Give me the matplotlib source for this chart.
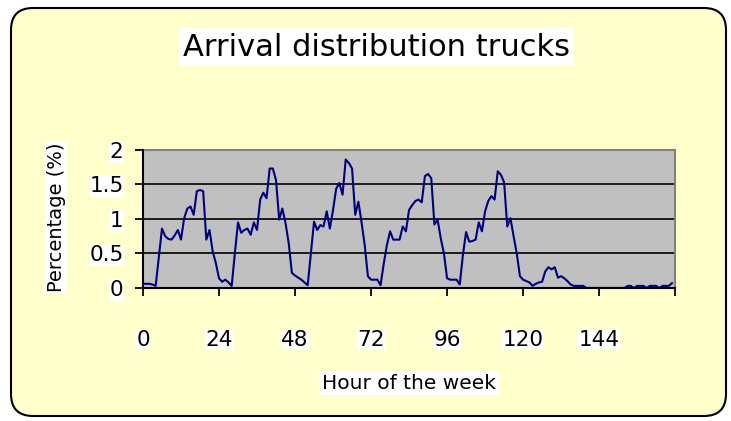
import numpy as np
import matplotlib
matplotlib.use('Agg')
import matplotlib.pyplot as plt
from matplotlib.patches import FancyBboxPatch

# hourly arrival share (%) over one week
hours = np.arange(168)
pct = [0.06, 0.06, 0.06, 0.05, 0.03, 0.45, 0.86, 0.75, 0.71, 0.70,
       0.76, 0.84, 0.70, 1.01, 1.15, 1.18, 1.06, 1.40, 1.42, 1.40,
       0.70, 0.84, 0.53, 0.36, 0.14, 0.09, 0.12, 0.08, 0.03, 0.50,
       0.95, 0.80, 0.84, 0.86, 0.77, 0.95, 0.84, 1.28, 1.38, 1.30,
       1.73, 1.73, 1.56, 0.99, 1.15, 0.94, 0.65, 0.22, 0.18, 0.15,
       0.12, 0.08, 0.04, 0.50, 0.96, 0.84, 0.91, 0.89, 1.11, 0.86,
       1.13, 1.44, 1.52, 1.35, 1.86, 1.81, 1.73, 1.06, 1.25, 0.95,
       0.62, 0.17, 0.12, 0.12, 0.12, 0.04, 0.35, 0.62, 0.82, 0.70,
       0.70, 0.70, 0.89, 0.82, 1.13, 1.20, 1.26, 1.28, 1.24, 1.62,
       1.65, 1.59, 0.92, 0.99, 0.72, 0.50, 0.14, 0.12, 0.12, 0.12,
       0.05, 0.48, 0.81, 0.67, 0.68, 0.70, 0.95, 0.82, 1.11, 1.26,
       1.33, 1.28, 1.69, 1.64, 1.53, 0.89, 1.01, 0.75, 0.50, 0.17,
       0.12, 0.10, 0.08, 0.03, 0.06, 0.08, 0.09, 0.24, 0.30, 0.27,
       0.30, 0.15, 0.17, 0.14, 0.10, 0.05, 0.03, 0.03, 0.03, 0.03,
       0.00, 0.00, 0.00, 0.00, 0.00, 0.00, 0.00, 0.00, 0.00, 0.00,
       0.00, 0.00, 0.00, 0.03, 0.03, 0.00, 0.03, 0.03, 0.03, 0.00,
       0.03, 0.03, 0.03, 0.00, 0.03, 0.03, 0.03, 0.07]
xticks = [0, 24, 48, 72, 96, 120, 144]
yticks = [0, 0.5, 1, 1.5, 2]
ylabels = ['0', '0.5', '1', '1.5', '2']

fig = plt.figure(figsize=(7.31, 4.21), dpi=100)
fig.patch.set_facecolor('white')

# rounded yellow chart area (inches)
bg = FancyBboxPatch((0.11, 0.05), 7.15, 4.08, boxstyle='round,pad=0,rounding_size=0.22',
                    transform=fig.dpi_scale_trans, facecolor='#FFFFCC', edgecolor='black',
                    linewidth=1.5, zorder=-1)
fig.patches.append(bg)

ax = fig.add_axes([0.1956, 0.316, 0.728, 0.328])
ax.set_facecolor('#C0C0C0')
ax.plot(hours, pct, color='#000080', linewidth=1.5, zorder=2)

ax.set_xlim(0, 168)
ax.set_ylim(0, 2)
ax.set_xticks(xticks)
ax.set_xticklabels([str(t) for t in xticks])
ax.set_xticks([168], minor=True)
ax.set_yticks(yticks)
ax.set_yticklabels(ylabels)
ax.yaxis.grid(True, color='black', linewidth=1.2)
ax.set_axisbelow(True)

for s in ['top', 'right']:
    ax.spines[s].set_color('#808080')
    ax.spines[s].set_linewidth(1.5)
for s in ['left', 'bottom']:
    ax.spines[s].set_color('black')
    ax.spines[s].set_linewidth(1.5)
    ax.spines[s].set_zorder(3)

ax.tick_params(axis='x', which='both', direction='out', length=6, width=1.3,
               pad=24, labelsize=15.5)
ax.tick_params(axis='y', direction='out', length=6, width=1.3, pad=8, labelsize=15.5)
for t in ax.get_xticklabels() + ax.get_yticklabels():
    t.set_bbox(dict(facecolor='white', edgecolor='none', pad=0.5))

fig.text(0.515, 0.888, 'Arrival distribution trucks', ha='center', va='center',
         fontsize=22, bbox=dict(facecolor='white', edgecolor='none', pad=3))
fig.text(0.077, 0.485, 'Percentage (%)', ha='center', va='center', rotation=90,
         fontsize=14, bbox=dict(facecolor='white', edgecolor='none', pad=1))
fig.text(0.56, 0.09, 'Hour of the week', ha='center', va='center',
         fontsize=14.5, bbox=dict(facecolor='white', edgecolor='none', pad=2))

fig.savefig('out.png', dpi=100)
